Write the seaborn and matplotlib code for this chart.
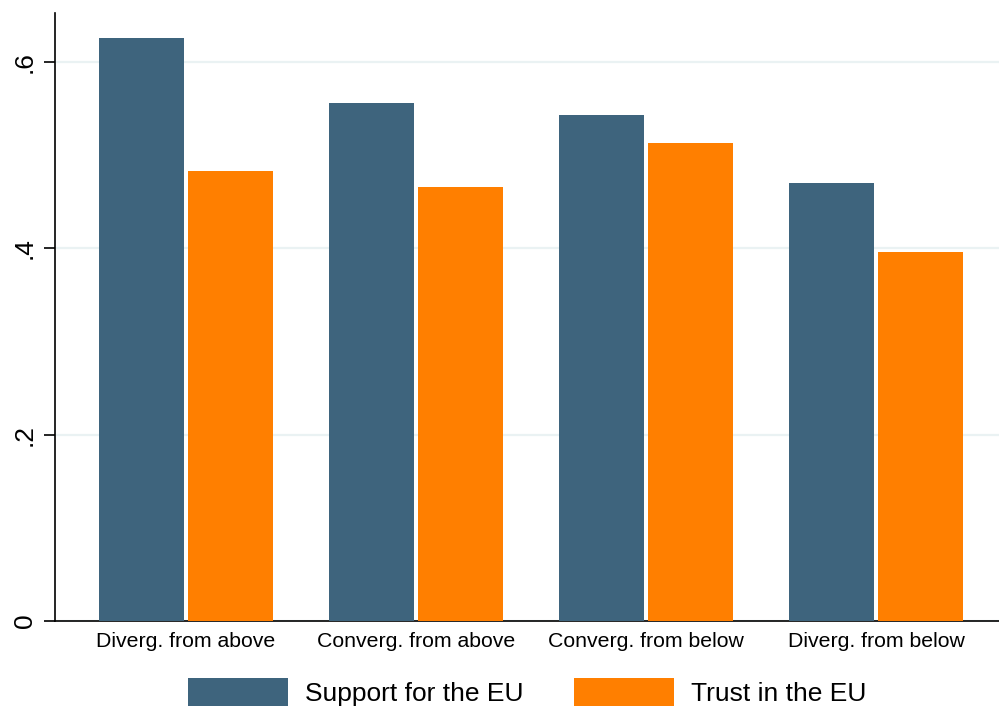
import matplotlib
matplotlib.use("Agg")
import matplotlib.pyplot as plt
import seaborn as sns
import pandas as pd
from matplotlib.ticker import FixedLocator, FixedFormatter
from matplotlib.patches import Patch

categories = ["Diverg. from above", "Converg. from above", "Converg. from below", "Diverg. from below"]
support = [0.626, 0.556, 0.543, 0.470]
trust = [0.483, 0.466, 0.513, 0.396]
series_names = ["Support for the EU", "Trust in the EU"]
y_ticks = [0, 0.2, 0.4, 0.6]
y_tick_labels = ["0", ".2", ".4", ".6"]

df = pd.DataFrame({
    "category": categories * 2,
    "value": support + trust,
    "series": [series_names[0]] * len(categories) + [series_names[1]] * len(categories),
})

sns.set_style("white")
plt.rcParams["font.family"] = ["Liberation Sans", "DejaVu Sans"]
plt.rcParams["text.color"] = "black"
plt.rcParams["xtick.color"] = "black"
plt.rcParams["ytick.color"] = "black"

fig = plt.figure(figsize=(9.99, 7.09), dpi=100)
ax = fig.add_axes([55 / 999, 88 / 709, 1 - 55 / 999, (621 - 13) / 709])

colors = ["#3E647D", "#FF7F00"]
sns.barplot(data=df, x="category", y="value", hue="series", order=categories,
            hue_order=series_names, palette=colors, width=0.774, gap=0.045,
            saturation=1, ax=ax, legend=False, zorder=3, linewidth=0)

ax.set_xlim(-0.57, 3.535)
ax.set_ylim(0, (621 - 13) / 931.7)
ax.yaxis.set_major_locator(FixedLocator(y_ticks))
ax.yaxis.set_major_formatter(FixedFormatter(y_tick_labels))
ax.grid(axis="y", color="#EAF2F3", linewidth=1.6, zorder=0)
ax.set_axisbelow(True)
for s in ["top", "right"]:
    ax.spines[s].set_visible(False)
ax.spines["left"].set_color("black")
ax.spines["bottom"].set_color("black")
ax.spines["left"].set_linewidth(1.2)
ax.spines["bottom"].set_linewidth(1.2)
ax.tick_params(axis="y", length=8, width=1.2, color="black", labelcolor="black",
               labelsize=19, pad=5, left=True)
for lab in ax.get_yticklabels():
    lab.set_rotation(90)
    lab.set_va("center")
ax.tick_params(axis="x", length=0, labelsize=15.3, pad=8, labelcolor="black")
ax.set_xlabel("")
ax.set_ylabel("")

handles = [Patch(facecolor=c, edgecolor="none") for c in colors]
leg = fig.legend(handles, series_names, loc="center", bbox_to_anchor=(527 / 999, 17 / 709),
                 ncol=2, frameon=False, fontsize=19, handlelength=3.8, handleheight=1.25,
                 handletextpad=0.65, columnspacing=1.9, borderaxespad=0, borderpad=0,
                 labelcolor="black")

fig.savefig("out.png", dpi=100)
